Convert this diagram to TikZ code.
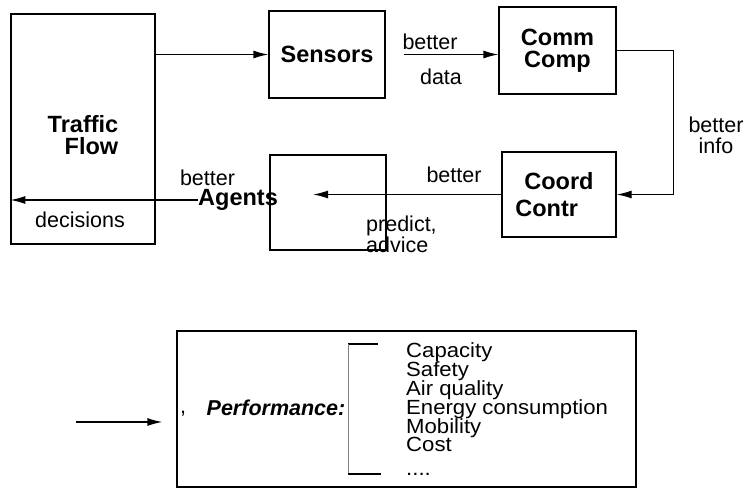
\documentclass[tikz,border=0pt]{standalone}
\usepackage{fontspec}
\setmainfont{Liberation Sans}
\usetikzlibrary{arrows.meta}
\begin{document}
\begin{tikzpicture}[x=1pt, y=-1pt,
  every node/.style={font=\fontsize{21.5}{22}\selectfont, inner sep=0pt},
  blk/.style={draw, line width=1.3pt},
  bold/.style={font=\bfseries\fontsize{23.5}{22}\selectfont},
  arr/.style={-{Latex[length=15pt,width=8pt]}, line width=1.3pt},
  item/.style={anchor=base west, font=\fontsize{20.5}{19}\selectfont}]
\useasboundingbox (0,0) rectangle (749,490);
% Part one: the loop -- flow, sensors, comm, coord, agents
\node[blk, minimum width=144pt, minimum height=230pt] (flow) at (83,129) {};
\node[bold, align=right] (flowtxt) at (83,135) {Traffic\\Flow};
\node[blk, bold, minimum width=116pt, minimum height=87pt] (sensors) at (327,54.5) {Sensors};
\node[blk, bold, minimum width=117pt, minimum height=87pt, align=center, font=\bfseries\fontsize{23.5}{22.5}\selectfont] (comm) at (557.5,50.5) {Comm\\Comp};
\node[blk, bold, minimum width=114pt, minimum height=85pt, align=left, font=\bfseries\fontsize{23.5}{27}\selectfont] (coord) at (559,194.5) {Coord\\\hspace*{-9pt}Contr};
\node[blk, minimum width=116pt, minimum height=95pt] (agentsbox) at (328,202.5) {};
\node[bold] (agents) at (238,200) {Agents};
\coordinate (agin) at (313,194.5);
\draw[arr] (flow.east |- sensors.west) -- (sensors.west);
\draw[arr, shorten <=18pt] (sensors.east) -- (comm.west |- sensors.east);
\draw[arr] (comm.east) -- ++(57,0) |- (coord.east);
\draw[arr] (coord.west) -- (agin);
\draw[arr] (agents.west) -- (flow.west |- agents.west);
\node (lbetterS) at (430,42) {better};
\node (ldata) at (441,77) {data};
\node[align=center, font=\fontsize{21.5}{21}\selectfont] (linfo) at (716,135) {better\\info};
\node (lbetterC) at (454,175) {better};
\node[align=left, anchor=west, font=\fontsize{21.5}{17}\selectfont] (lpredict) at (366,234) {predict,\\advice};
\node (lbetterA) at (207.5,177.5) {better};
\node (ldecisions) at (80,220) {decisions};
% Part two: what the loop is judged by
\node[blk, minimum width=459pt, minimum height=156pt] (perf) at (406.5,409) {};
\node[font=\bfseries\itshape\fontsize{21.5}{22}\selectfont] (perftxt) at (276,408) {Performance:};
\node (comma) at (183,414) {,};
\coordinate (perfsrc) at (76,422);
\draw[arr, shorten >=14pt] (perfsrc) -- (perf.west |- perfsrc);
\draw[line width=1.3pt] (378,344) -- (348,344);
\draw[gray, thin] (348,344) -- (348,474);
\draw[line width=1.3pt] (348,474) -- (381,474);
\foreach \t/\y [count=\i] in {Capacity/357.8, Safety/376.6, Air quality/395.4, Energy consumption/414.2, Mobility/433, Cost/451.8, {....}/475}
  \node[item] (item\i) at (406,\y) {\scalebox{1.08}[1]{\t}};
\end{tikzpicture}
\end{document}
